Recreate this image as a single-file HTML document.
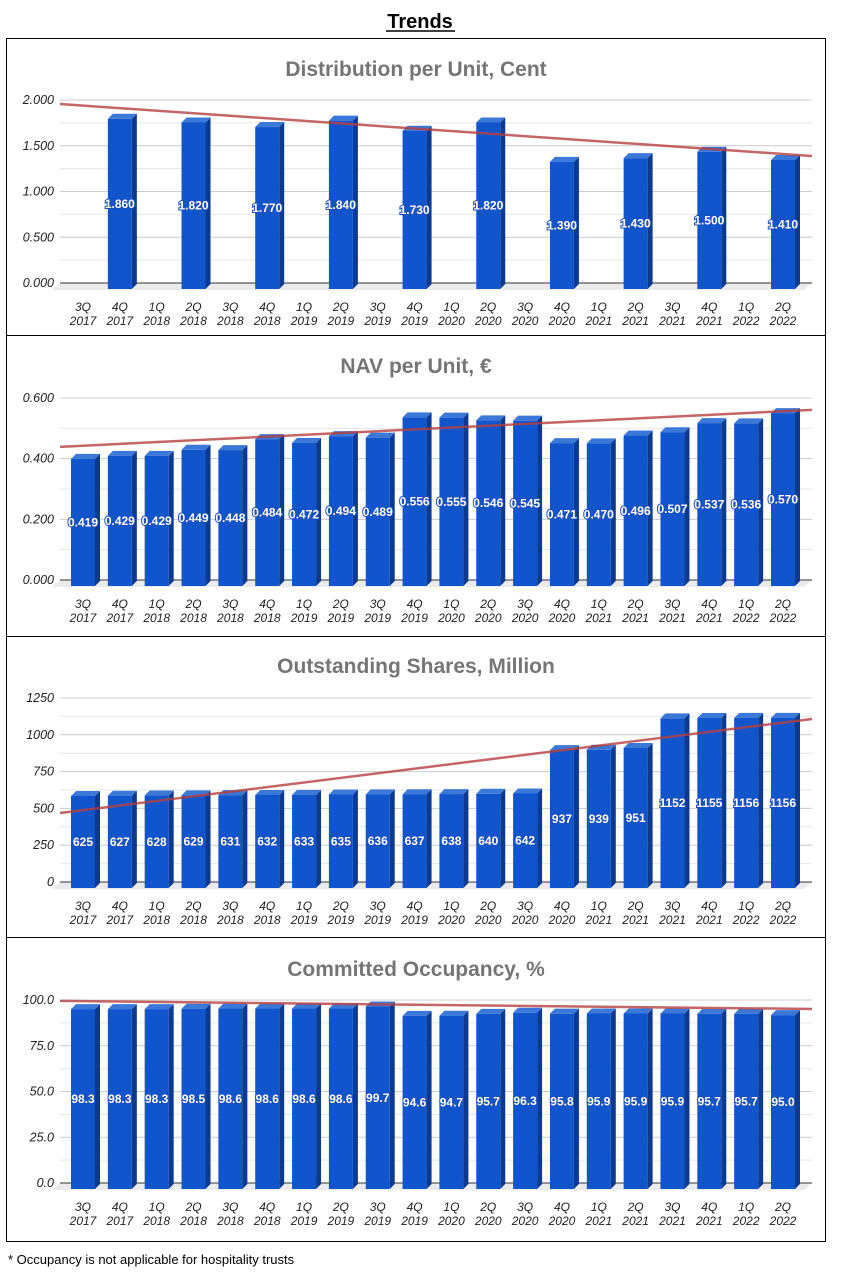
<!DOCTYPE html>
<html><head><meta charset="utf-8"><style>
body{margin:0;background:#fff;font-family:"Liberation Sans",sans-serif;}
svg{display:block}
</style></head><body>
<svg id="page" width="842" height="1285" viewBox="0 0 842 1285">
<rect x="0" y="0" width="842" height="1285" fill="#fff"/>
<text x="420" y="28" text-anchor="middle" font-size="20" font-weight="bold" fill="#000">Trends</text>
<line x1="386" y1="31" x2="455" y2="31" stroke="#000" stroke-width="1.5"/>
<rect x="6.5" y="38.5" width="819" height="1203" fill="none" stroke="#000"/>
<line x1="6" y1="335.5" x2="826" y2="335.5" stroke="#000"/>
<line x1="6" y1="636.5" x2="826" y2="636.5" stroke="#000"/>
<line x1="6" y1="937.5" x2="826" y2="937.5" stroke="#000"/>
<text x="8" y="1264" font-size="13" fill="#000">* Occupancy is not applicable for hospitality trusts</text>
<g id="charts"></g>
</svg>
<script>
const categories = ["3Q 2017","4Q 2017","1Q 2018","2Q 2018","3Q 2018","4Q 2018","1Q 2019","2Q 2019","3Q 2019","4Q 2019","1Q 2020","2Q 2020","3Q 2020","4Q 2020","1Q 2021","2Q 2021","3Q 2021","4Q 2021","1Q 2022","2Q 2022"];
const dpuValues = [null,1.860,null,1.820,null,1.770,null,1.840,null,1.730,null,1.820,null,1.390,null,1.430,null,1.500,null,1.410];
const navValues = [0.419,0.429,0.429,0.449,0.448,0.484,0.472,0.494,0.489,0.556,0.555,0.546,0.545,0.471,0.470,0.496,0.507,0.537,0.536,0.570];
const sharesValues = [625,627,628,629,631,632,633,635,636,637,638,640,642,937,939,951,1152,1155,1156,1156];
const occupancyValues = [98.3,98.3,98.3,98.5,98.6,98.6,98.6,98.6,99.7,94.6,94.7,95.7,96.3,95.8,95.9,95.9,95.9,95.7,95.7,95.0];
const dpuTicks = [0,0.5,1,1.5,2];
const navTicks = [0,0.2,0.4,0.6];
const sharesTicks = [0,250,500,750,1000,1250];
const occTicks = [0,25,50,75,100];
const dpuTrend = [1.956,1.388];
const navTrend = [0.439,0.561];
const sharesTrend = [469,1107];
const occTrend = [99.5,95.1];

const NS="http://www.w3.org/2000/svg";
const root=document.getElementById('charts');
function mk(tag,attrs,parent){const e=document.createElementNS(NS,tag);for(const k in attrs)e.setAttribute(k,attrs[k]);(parent||root).appendChild(e);return e;}
const charts=[
 {name:'distribution',title:'Distribution per Unit, Cent',titleY:76,base:283,top:100,max:2,ticks:dpuTicks,dec:3,vals:dpuValues,trend:dpuTrend,lab:3},
 {name:'nav',title:'NAV per Unit, €',titleY:373,base:580,top:398,max:0.6,ticks:navTicks,dec:3,vals:navValues,trend:navTrend,lab:3},
 {name:'shares',title:'Outstanding Shares, Million',titleY:673,base:882,top:698,max:1250,ticks:sharesTicks,dec:0,vals:sharesValues,trend:sharesTrend,lab:0},
 {name:'occupancy',title:'Committed Occupancy, %',titleY:976,base:1183,top:1000,max:100,ticks:occTicks,dec:1,vals:occupancyValues,trend:occTrend,lab:1}
];
const X0=60,X1=812,C0=83,C1=783;
charts.forEach(c=>{
 const g=mk('g',{});
 
 
 const n=categories.length;
 const sc=(c.base-c.top)/c.max;
 const y=v=>c.base-v*sc;
 const x=i=>C0+(C1-C0)*i/(n-1);
 const t=mk('text',{x:416,y:c.titleY,'text-anchor':'middle','font-size':21,'font-weight':'bold',fill:'#757575'},g);
 t.textContent=c.title;
 
 
 for(let k=0;k<c.ticks.length;k++){
  const v=c.ticks[k];
  if(k>0){const h=(c.ticks[k]+c.ticks[k-1])/2;mk('line',{x1:X0,x2:X1,y1:y(h),y2:y(h),stroke:'#e6e6e6'},g);}
  if(v>0)mk('line',{x1:X0,x2:X1,y1:y(v),y2:y(v),stroke:'#cccccc'},g);
  const tl=mk('text',{x:54,y:y(v)+4,'text-anchor':'end','font-size':12.5,'font-style':'italic',fill:'#222'},g);
  tl.textContent=c.dec?v.toFixed(c.dec):String(v);
  
  
 }
 mk('polygon',{points:`${X0},${c.base} ${X1},${c.base} ${X1-8},${c.base+7} ${X0-8},${c.base+7}`,fill:'#ebebeb'},g);
 mk('line',{x1:X0,x2:X1,y1:c.base,y2:c.base,stroke:'#333'},g);
 c.vals.forEach((v,i)=>{
  if(v==null)return;
  const cx=x(i),bw=24,x0=cx-12,x1=cx+12,bot=c.base+6,tp=bot-v*sc,d=5;
  const bg=mk('g',{},g);
  
  
  mk('polygon',{points:`${x1},${bot} ${x1},${tp} ${x1+d},${tp-d} ${x1+d},${bot-d}`,fill:'#0c3a8f'},bg);
  mk('polygon',{points:`${x0},${tp} ${x1},${tp} ${x1+d},${tp-d} ${x0+d},${tp-d}`,fill:'#3c78d8'},bg);
  mk('rect',{x:x0,y:tp,width:bw,height:bot-tp,fill:'#1155cc'},bg);
  const lb=mk('text',{x:cx,y:(tp+bot)/2+4,'text-anchor':'middle','font-size':12,'font-weight':'bold',fill:'#fff',stroke:'#1a4fb8','stroke-width':2,'paint-order':'stroke'},bg);
  lb.textContent=v.toFixed(c.lab);
  
  
 });
 const tr=mk('line',{x1:X0,y1:y(c.trend[0]),x2:X1,y2:y(c.trend[1]),stroke:'#b5403f','stroke-opacity':0.8,'stroke-width':2.5},g);
 
 
 categories.forEach((cat,i)=>{
  const p=cat.split(' ');
  const a=mk('text',{x:x(i),y:c.base+28,'text-anchor':'middle','font-size':12,'font-style':'italic',fill:'#222'},g);
  a.textContent=p[0];
  
  
  const b=mk('text',{x:x(i),y:c.base+42,'text-anchor':'middle','font-size':12,'font-style':'italic',fill:'#222'},g);
  b.textContent=p[1];
  
  
 });
});
</script>
</body></html>
